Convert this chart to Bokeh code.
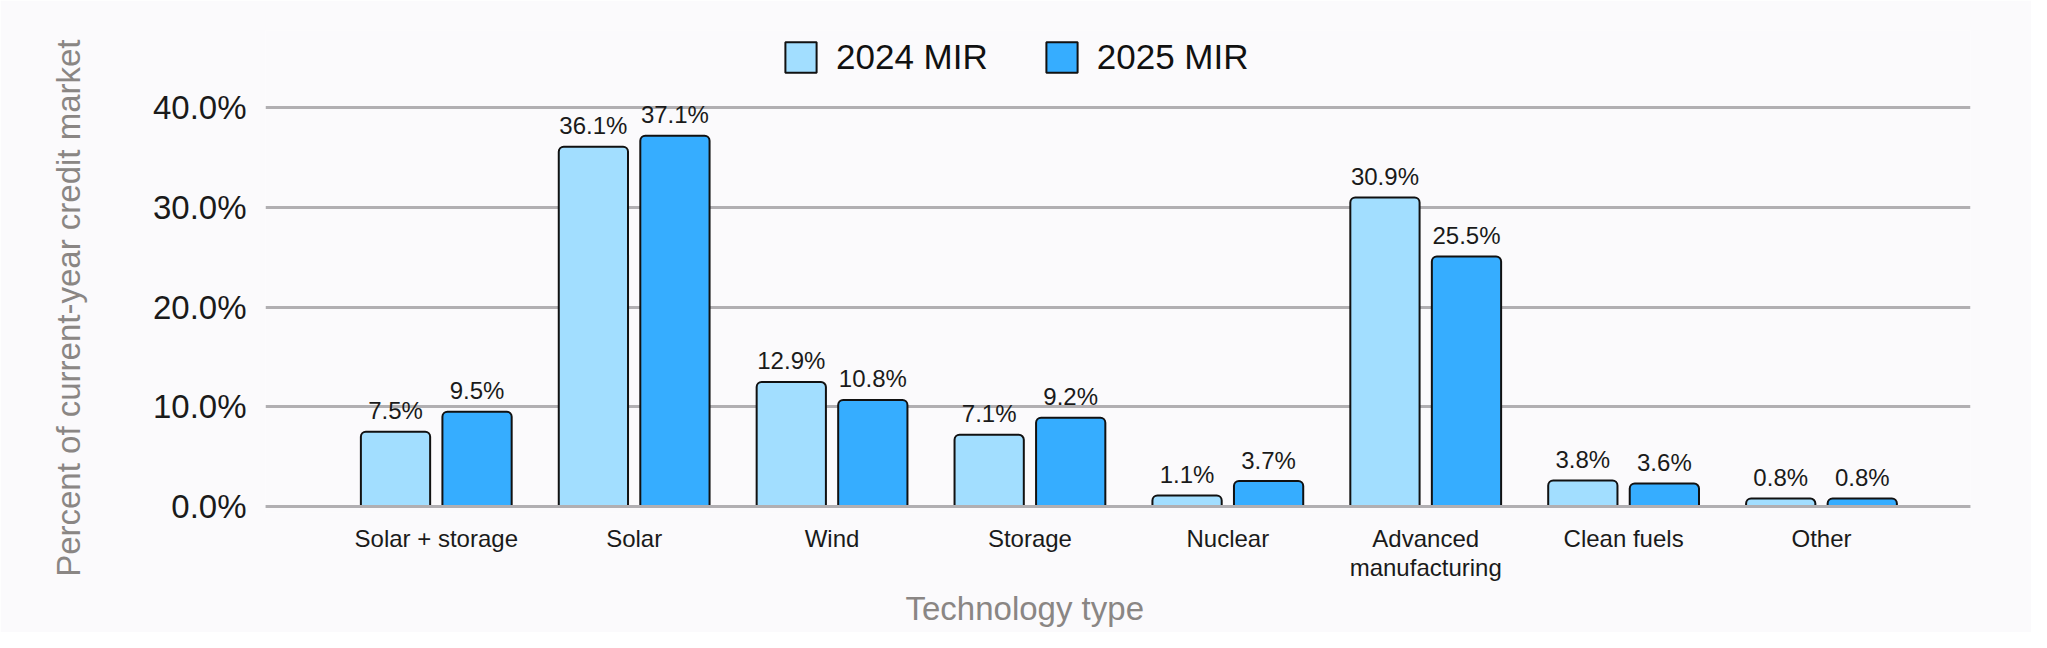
import numpy as np
from bokeh.plotting import figure
from bokeh.models import (ColumnDataSource, Range1d, FixedTicker, PrintfTickFormatter,
                          Legend, LegendItem, Span, Title)
from bokeh.transform import dodge
from bokeh.core.properties import value
from bokeh.embed import file_html
from bokeh.resources import INLINE

# ---- data ----
categories = ["Solar + storage", "Solar", "Wind", "Storage", "Nuclear",
              "Advanced\nmanufacturing", "Clean fuels", "Other"]
mir_2024 = [7.5, 36.1, 12.5, 7.2, 1.1, 31.0, 2.6, 0.8]
mir_2025 = [9.5, 37.2, 10.7, 8.9, 2.55, 25.1, 2.3, 0.8]
labels_2024 = ["7.5%", "36.1%", "12.9%", "7.1%", "1.1%", "30.9%", "3.8%", "0.8%"]
labels_2025 = ["9.5%", "37.1%", "10.8%", "9.2%", "3.7%", "25.5%", "3.6%", "0.8%"]
series_names = ["2024 MIR", "2025 MIR"]
y_ticks = [0, 10, 20, 30, 40]
x_title = "Technology type"
y_title = "Percent of current-year credit market"

FONT = "Liberation Sans"
BG = "#FBFAFC"
C24 = "#A2DEFF"
C25 = "#36ADFF"
GRID = "#B1AFB2"
TITLE_C = "#8A8684"

cat_x = (np.arange(len(categories)) + 0.5).tolist()
src = ColumnDataSource(dict(x=cat_x, v24=mir_2024, v25=mir_2025,
                            l24=labels_2024, l25=labels_2025))

# frame: x 265..1970, y 30..512 (window px); 10% = 99.65 px
p = figure(width=2031, height=632, output_backend="svg", toolbar_location=None,
           x_range=Range1d(-0.363, 8.253), y_range=Range1d(-0.6, 47.77),
           min_border_left=265, min_border_right=61, min_border_top=30,
           min_border_bottom=120, background_fill_color=BG, border_fill_color=BG,
           outline_line_color=None)

BW = 0.35
OFF = 0.206
r24 = p.vbar(x=dodge("x", -OFF, range=p.x_range), top="v24", bottom=0, width=BW,
             source=src, fill_color=C24, line_color="#111111", line_width=2,
             border_radius=(5, 5, 0, 0))
r25 = p.vbar(x=dodge("x", OFF, range=p.x_range), top="v25", bottom=0, width=BW,
             source=src, fill_color=C25, line_color="#111111", line_width=2,
             border_radius=(5, 5, 0, 0))

for col, lab, off in (("v24", "l24", -OFF), ("v25", "l25", OFF)):
    p.text(x=dodge("x", off, range=p.x_range), y=col, text=lab, source=src,
           text_align="center", text_baseline="alphabetic", y_offset=-21,
           text_font=value(FONT), text_font_size="24px", text_color="#1A1A1A")

p.add_layout(Span(location=0, dimension="width", line_color=GRID, line_width=3))

# axes
p.xaxis.ticker = FixedTicker(ticks=cat_x)
p.xaxis.major_label_overrides = {x: c for x, c in zip(cat_x, categories)}
p.yaxis.ticker = FixedTicker(ticks=y_ticks)
p.yaxis.formatter = PrintfTickFormatter(format="%.1f%%")
for ax in (p.xaxis[0], p.yaxis[0]):
    ax.axis_line_color = None
    ax.major_tick_line_color = None
    ax.minor_tick_line_color = None
    ax.major_tick_out = 0
    ax.major_tick_in = 0
    ax.minor_tick_out = 0
    ax.major_label_text_font = FONT
    ax.major_label_text_color = "#1A1A1A"

p.xaxis.major_label_text_font_size = "24px"
p.xaxis.major_label_standoff = 12
p.xaxis.major_label_text_line_height = 1.1
p.yaxis.major_label_text_font_size = "33px"
p.yaxis.major_label_standoff = 19

# y title: axis label (trailing no-break spaces move the visible text down,
# so it sits centred on the 0-40% span like the reference)
p.yaxis.axis_label = y_title + "\u00a0" * 8
p.yaxis.axis_label_text_font = FONT
p.yaxis.axis_label_text_font_size = "33px"
p.yaxis.axis_label_text_font_style = "normal"
p.yaxis.axis_label_text_color = TITLE_C
p.yaxis.axis_label_standoff = 63

# x title: side title placed off-centre as in the reference
p.add_layout(Title(text=x_title, align="left", offset=640, standoff=6,
                   text_font=FONT, text_font_size="33px", text_font_style="normal",
                   text_color=TITLE_C), "below")

p.xgrid.grid_line_color = None
p.ygrid.ticker = FixedTicker(ticks=y_ticks)
p.ygrid.grid_line_color = GRID
p.ygrid.grid_line_width = 3

legend = Legend(items=[LegendItem(label=series_names[0], renderers=[r24]),
                       LegendItem(label=series_names[1], renderers=[r25])],
                orientation="horizontal", location=(516, 435),
                glyph_width=39, glyph_height=38, label_standoff=16, spacing=54,
                padding=0, margin=0, border_line_color=None,
                background_fill_alpha=0, label_text_font=FONT,
                label_text_font_size="35px", label_text_color="#111111")
p.add_layout(legend)

open("out.html", "w").write(file_html(p, INLINE))
